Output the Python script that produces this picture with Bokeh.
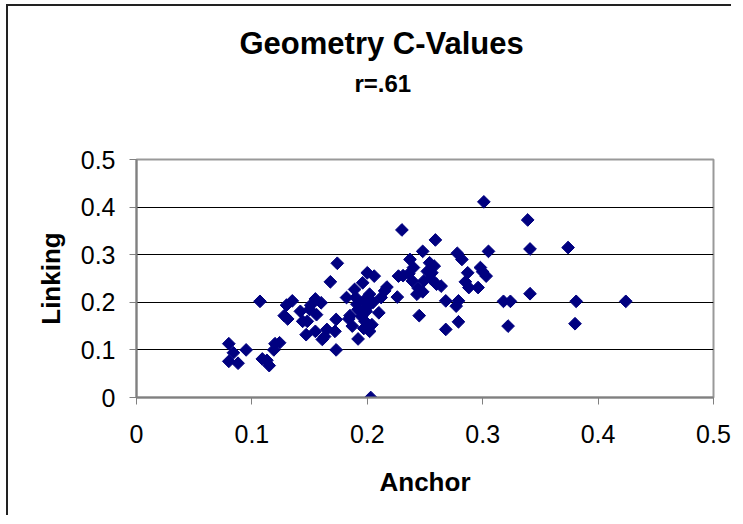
from bokeh.plotting import figure
from bokeh.models import Range1d, FixedTicker, Title
from bokeh.embed import file_html
from bokeh.resources import INLINE
import math

# Data
anchor = [0.080, 0.080, 0.084, 0.088, 0.095, 0.107, 0.109, 0.113, 0.115, 0.119,
          0.120, 0.124, 0.128, 0.130, 0.135, 0.131, 0.142, 0.144, 0.148, 0.147,
          0.151, 0.155, 0.156, 0.160, 0.155, 0.161, 0.165, 0.168, 0.172, 0.173,
          0.174, 0.173, 0.182, 0.185, 0.187, 0.189, 0.191, 0.192, 0.194, 0.196,
          0.197, 0.198, 0.199, 0.200, 0.202, 0.202, 0.203, 0.204, 0.206, 0.210,
          0.212, 0.215, 0.217, 0.226, 0.227, 0.231, 0.230, 0.237, 0.239, 0.240,
          0.243, 0.245, 0.248, 0.248, 0.249, 0.254, 0.256, 0.258, 0.259, 0.260,
          0.264, 0.268, 0.268, 0.277, 0.279, 0.278, 0.279, 0.282, 0.287, 0.288,
          0.296, 0.298, 0.300, 0.301, 0.303, 0.305, 0.318, 0.324, 0.322, 0.339,
          0.341, 0.341, 0.374, 0.380, 0.381, 0.424, 0.192, 0.195, 0.200, 0.205,
          0.190, 0.184, 0.197, 0.150, 0.163, 0.252, 0.244, 0.255, 0.285, 0.236]
linking = [0.113, 0.076, 0.094, 0.072, 0.100, 0.202, 0.081, 0.078, 0.067, 0.100,
           0.113, 0.115, 0.172, 0.194, 0.203, 0.165, 0.181, 0.160, 0.160, 0.132,
           0.194, 0.207, 0.174, 0.199, 0.139, 0.122, 0.143, 0.243, 0.139, 0.164,
           0.282, 0.100, 0.210, 0.172, 0.150, 0.227, 0.196, 0.123, 0.181, 0.241,
           0.203, 0.160, 0.181, 0.262, 0.217, 0.139, 0.000, 0.153, 0.255, 0.178,
           0.210, 0.224, 0.232, 0.211, 0.255, 0.256, 0.352, 0.290, 0.245, 0.273,
           0.217, 0.172, 0.307, 0.222, 0.245, 0.283, 0.262, 0.276, 0.331, 0.238,
           0.234, 0.203, 0.143, 0.192, 0.203, 0.303, 0.159, 0.290, 0.262, 0.231,
           0.231, 0.273, 0.264, 0.411, 0.255, 0.307, 0.202, 0.202, 0.150, 0.373,
           0.312, 0.218, 0.315, 0.155, 0.202, 0.202, 0.185, 0.170, 0.190, 0.200,
           0.210, 0.165, 0.145, 0.185, 0.128, 0.265, 0.230, 0.250, 0.243, 0.260]

tick_values = [0, 0.1, 0.2, 0.3, 0.4, 0.5]
tick_labels = ["0", "0.1", "0.2", "0.3", "0.4", "0.5"]
title_text = "Geometry C-Values"
subtitle_text = "r=.61"
x_label = "Anchor"
y_label = "Linking"

FONT = "Liberation Sans"

p = figure(width=725, height=511, output_backend="svg", toolbar_location=None,
           x_range=Range1d(0, 0.5), y_range=Range1d(0, 0.5),
           min_border_left=128, min_border_right=20,
           min_border_top=153, min_border_bottom=120)
p.margin = (4, 0, 0, 6)
p.styles = {"border-left": "2px solid #222222", "border-top": "2px solid #222222"}

p.background_fill_color = "white"
p.border_fill_color = "white"
p.outline_line_color = "#999999"
p.outline_line_width = 2

ticker = FixedTicker(ticks=tick_values)
overrides = {v: s for v, s in zip(tick_values, tick_labels)}

for ax in (p.xaxis[0], p.yaxis[0]):
    ax.ticker = ticker
    ax.major_label_overrides = overrides
    ax.axis_line_color = "#808080"
    ax.axis_line_width = 2
    ax.major_tick_line_color = "#808080"
    ax.major_tick_line_width = 1
    ax.major_tick_in = 0
    ax.major_tick_out = 7
    ax.minor_tick_line_color = None
    ax.major_label_text_font = FONT
    ax.major_label_text_font_size = "25px"
    ax.major_label_text_color = "black"
    ax.axis_label_text_font = FONT
    ax.axis_label_text_font_size = "26px"
    ax.axis_label_text_font_style = "bold"
    ax.axis_label_text_color = "black"

p.xaxis.axis_label = x_label
p.yaxis.axis_label = y_label
p.xaxis.major_label_standoff = 20
p.yaxis.major_label_standoff = 14
p.xaxis.axis_label_standoff = 21
p.yaxis.axis_label_standoff = 12

p.xgrid.grid_line_color = None
p.ygrid.ticker = FixedTicker(ticks=[0.1, 0.2, 0.3, 0.4])
p.ygrid.grid_line_color = "black"
p.ygrid.grid_line_width = 1

p.scatter(anchor, linking, marker="square", size=9, angle=math.pi / 4,
          fill_color="#000080", line_color="#000080", line_width=1)

# main title (outermost), then the correlation subtitle, then blank space above the frame
p.title.text = title_text
p.title.align = "left"
p.title.offset = 103
p.title.standoff = 3
p.title.text_font = FONT
p.title.text_font_size = "31px"
p.title.text_font_style = "bold"
p.title.text_color = "black"

p.add_layout(Title(text=" ", standoff=45, text_font=FONT,
                   text_font_size="10px"), "above")
p.add_layout(Title(text=subtitle_text, align="left", offset=218, standoff=10,
                   text_font=FONT, text_font_size="24px",
                   text_font_style="bold", text_color="black"), "above")

open("out.html", "w").write(file_html(p, INLINE))
